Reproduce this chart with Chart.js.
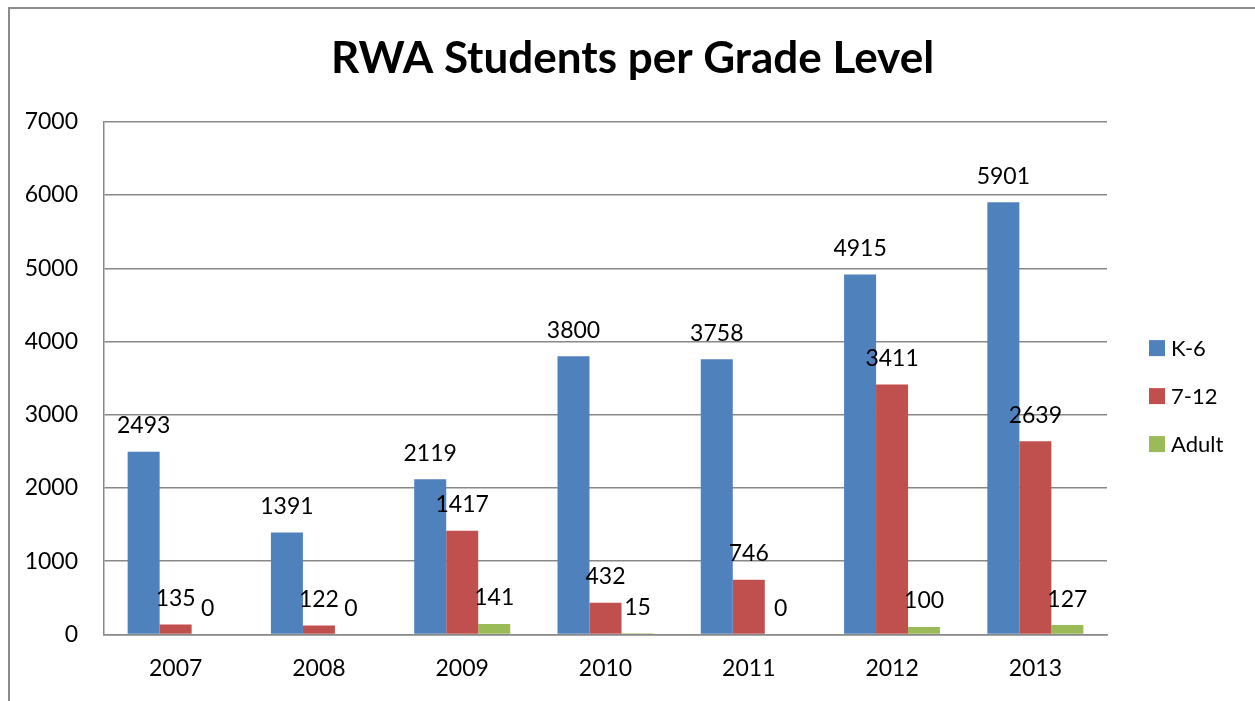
<!DOCTYPE html>
<html>
<head>
<meta charset="utf-8">
<script src="https://cdn.jsdelivr.net/npm/chart.js@4/dist/chart.umd.min.js"></script>
<style>
  body { margin:0; background:#fff; overflow:hidden; }
  #frame { position:absolute; left:8px; top:7px; width:1400px; height:800px;
           border-left:2px solid #8c8c8c; border-top:2px solid #8c8c8c; }
  #myChart { position:absolute; left:10px; top:10px; }
</style>
</head>
<body>
<div id="frame"></div>
<canvas id="myChart" width="1245" height="692"></canvas>
<script>
var years = ['2007','2008','2009','2010','2011','2012','2013'];
var k6 = [2493,1391,2119,3800,3758,4915,5901];
var g712 = [135,122,1417,432,746,3411,2639];
var adult = [0,0,141,15,0,100,127];
var seriesNames = ['K-6','7-12','Adult'];
var colors = ['#4F81BD','#C0504D','#9BBB59'];

var FONT = 'Lato, "Open Sans", sans-serif';

// value labels above each bar
var barLabels = {
  id: 'barLabels',
  afterDatasetsDraw: function(chart){
    var ctx = chart.ctx;
    ctx.save();
    ctx.font = '23px ' + FONT;
    ctx.fillStyle = '#000';
    ctx.textAlign = 'center';
    ctx.textBaseline = 'middle';
    chart.data.datasets.forEach(function(ds, i){
      chart.getDatasetMeta(i).data.forEach(function(bar, j){
        ctx.fillText(ds.data[j], bar.x, bar.y - 26);
      });
    });
    ctx.restore();
  }
};

// legend drawn to the right of the plot
var sideLegend = {
  id: 'sideLegend',
  afterDraw: function(chart){
    var ctx = chart.ctx;
    var area = chart.chartArea;
    var x = area.right + 42;
    var midY = (area.top + area.bottom) / 2 + 18;
    ctx.save();
    ctx.font = '22px ' + FONT;
    ctx.textBaseline = 'middle';
    chart.data.datasets.forEach(function(ds, i){
      var y = midY + (i - 1) * 48;
      ctx.fillStyle = ds.backgroundColor;
      ctx.fillRect(x, y - 8, 16, 16);
      ctx.fillStyle = '#000';
      ctx.fillText(ds.label, x + 22, y + 1);
    });
    ctx.restore();
  }
};

var config = {
  type: 'bar',
  data: {
    labels: years,
    datasets: [
      { label: seriesNames[0], data: k6, backgroundColor: colors[0] },
      { label: seriesNames[1], data: g712, backgroundColor: colors[1] },
      { label: seriesNames[2], data: adult, backgroundColor: colors[2] }
    ]
  },
  options: {
    responsive: false,
    animation: false,
    devicePixelRatio: 1,
    datasets: { bar: { barPercentage: 1, categoryPercentage: 0.67 } },
    layout: { padding: 0 },
    plugins: {
      legend: { display: false },
      tooltip: { enabled: false },
      title: {
        display: true,
        text: 'RWA Students per Grade Level',
        color: '#000',
        font: { family: FONT, size: 44, weight: 'bold' },
        padding: { top: 22, bottom: 37 }
      }
    },
    scales: {
      x: {
        grid: { display: false, drawTicks: false },
        border: { display: true, color: '#888', width: 1.5 },
        ticks: { color: '#000', font: { family: FONT, size: 23 }, padding: 20 }
      },
      y: {
        min: 0,
        max: 7000,
        afterFit: function(scale){ scale.width = 94; },
        grid: { color: '#888', lineWidth: 1.5, drawTicks: false },
        border: { display: true, color: '#888', width: 1.5 },
        ticks: {
          stepSize: 1000, color: '#000', font: { family: FONT, size: 23 }, padding: 26,
          callback: function(v){ return String(v); }
        }
      },
      // empty space on the right that holds the legend
      legendSpace: {
        type: 'linear',
        position: 'right',
        afterFit: function(scale){ scale.width = 148; },
        grid: { display: false, drawTicks: false },
        border: { display: false },
        ticks: { display: false }
      }
    }
  },
  plugins: [barLabels, sideLegend]
};

var myChart = new Chart(document.getElementById('myChart'), config);
</script>
</body>
</html>
